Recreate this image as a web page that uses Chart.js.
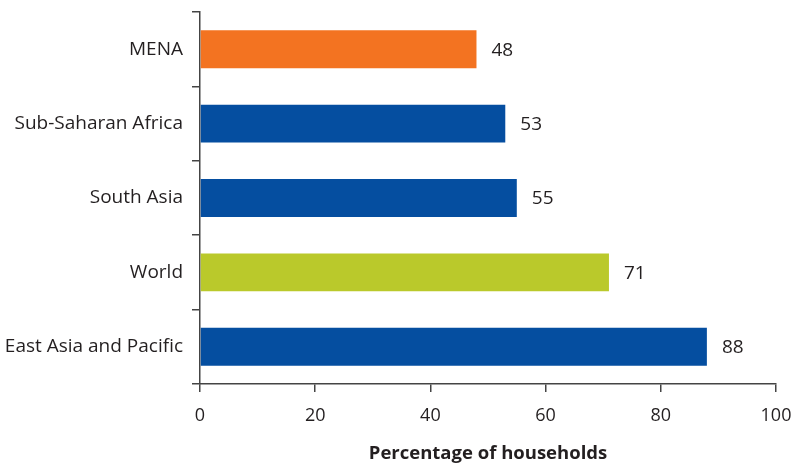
<!DOCTYPE html>
<html>
<head>
<meta charset="utf-8">
<script src="https://cdn.jsdelivr.net/npm/chart.js@4"></script>
<style>
  body { margin: 0; background: #fff; }
  canvas { display: block; }
</style>
</head>
<body>
<canvas id="chart" width="794" height="465"></canvas>
<script>
const regions = ["MENA", "Sub-Saharan Africa", "South Asia", "World", "East Asia and Pacific"];
const shares = [48, 53, 55, 71, 88];
const barColors = ["#F37321", "#054EA0", "#054EA0", "#BAC92B", "#054EA0"];
const xTicks = [0, 20, 40, 60, 80, 100];

const textColor = "#231F20";
const fontFamily = "'Open Sans', Lato, sans-serif";

// draw the number just past the end of each bar
const valueLabels = {
  id: "valueLabels",
  afterDatasetsDraw(chart) {
    const ctx = chart.ctx;
    const meta = chart.getDatasetMeta(0);
    ctx.save();
    ctx.fillStyle = textColor;
    ctx.font = "19px " + fontFamily;
    ctx.textAlign = "left";
    ctx.textBaseline = "middle";
    meta.data.forEach((bar, i) => {
      ctx.fillText(shares[i], bar.x + 15, bar.y + 1);
    });
    ctx.restore();
  },
};

new Chart(document.getElementById("chart"), {
  type: "bar",
  data: {
    labels: regions,
    datasets: [{
      data: shares,
      backgroundColor: barColors,
      barPercentage: 0.51,
      categoryPercentage: 1,
    }],
  },
  options: {
    indexAxis: "y",
    responsive: false,
    animation: false,
    layout: { padding: { top: 12, right: 18, left: 0, bottom: 0 } },
    plugins: {
      legend: { display: false },
      tooltip: { enabled: false },
    },
    scales: {
      x: {
        min: 0,
        max: 100,
        afterBuildTicks: (scale) => {
          scale.ticks = xTicks.map((v) => ({ value: v }));
        },
        afterFit: (scale) => {
          scale.height = 81;
          scale.paddingLeft = 0;
          scale.paddingRight = 0;
        },
        border: { color: "#444", width: 1.5 },
        grid: { drawOnChartArea: false, tickLength: 8, color: "#444", lineWidth: 1.5 },
        ticks: { color: textColor, font: { family: fontFamily, size: 18 }, padding: 13 },
        title: {
          display: true,
          text: "Percentage of households",
          color: textColor,
          font: { family: fontFamily, size: 18.5, weight: "bold" },
          padding: { top: 4, bottom: 0 },
        },
      },
      y: {
        afterFit: (scale) => {
          scale.width = 200;
          scale.paddingTop = 0;
          scale.paddingBottom = 0;
        },
        border: { color: "#444", width: 1.5 },
        grid: { drawOnChartArea: false, offset: true, tickLength: 8, color: "#444", lineWidth: 1.5 },
        ticks: { color: textColor, font: { family: fontFamily, size: 19 }, padding: 9 },
      },
    },
  },
  plugins: [valueLabels],
});
</script>
</body>
</html>
